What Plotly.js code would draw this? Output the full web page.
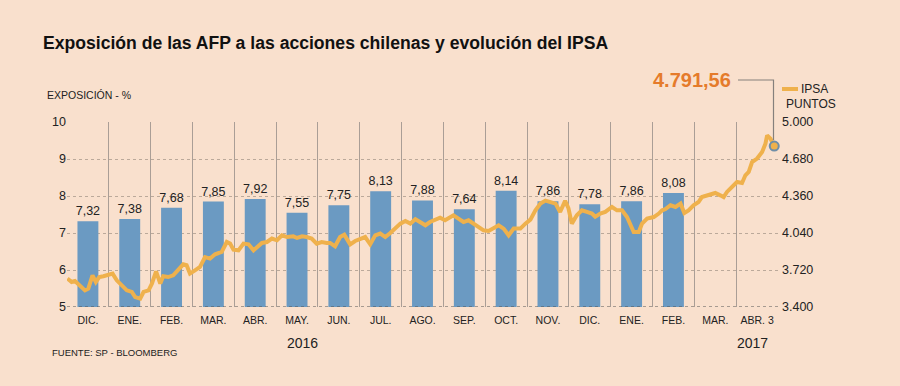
<!DOCTYPE html>
<html>
<head>
<meta charset="utf-8">
<script src="https://cdn.plot.ly/plotly-3.0.1.min.js"></script>
<style>
  html, body { margin: 0; padding: 0; background: #f9e0cd; }
  #chart { width: 900px; height: 386px; }
</style>
</head>
<body>
<div id="chart"></div>
<script>
// ---- data ----
const monthLabels = ['DIC.', 'ENE.', 'FEB.', 'MAR.', 'ABR.', 'MAY.', 'JUN.', 'JUL.', 'AGO.', 'SEP.', 'OCT.', 'NOV.', 'DIC.', 'ENE.', 'FEB.', 'MAR.', 'ABR. 3'];
const exposicion = [7.32, 7.38, 7.68, 7.85, 7.92, 7.55, 7.75, 8.13, 7.88, 7.64, 8.14, 7.86, 7.78, 7.86, 8.08];
// position of each IPSA reading along the month axis (0 = start of DIC. 2015)
const ipsaPos = [0.01,0.11,0.19,0.31,0.43,0.51,0.61,0.69,0.77,0.87,0.99,1.09,1.19,1.31,1.43,1.55,1.63,1.75,1.83,1.95,
  2.03,2.13,2.23,2.30,2.42,2.54,2.66,2.78,2.86,2.94,3.06,3.18,3.30,3.42,3.54,3.70,3.82,3.90,3.98,4.10,
  4.22,4.34,4.46,4.54,4.66,4.78,4.90,5.02,5.14,5.26,5.41,5.50,5.62,5.73,5.85,5.97,6.09,6.21,
  6.29,6.41,6.53,6.63,6.77,6.89,7.01,7.13,7.25,7.37,7.49,7.61,7.73,7.85,7.97,8.09,8.21,8.33,8.45,8.57,
  8.68,8.80,8.92,9.04,9.16,9.24,9.36,9.48,9.60,9.72,9.84,9.96,10.08,10.20,10.32,10.44,10.56,10.68,10.84,10.96,
  11.08,11.20,11.32,11.44,11.56,11.68,11.79,11.91,11.99,12.07,12.19,12.31,12.43,12.55,12.63,12.75,12.87,13.03,13.15,13.27,
  13.39,13.47,13.55,13.67,13.75,13.87,14.03,14.15,14.23,14.31,14.43,14.55,14.67,14.76,14.86,14.98,15.10,15.18,15.30,15.42,
  15.50,15.62,15.70,15.78,15.90,16.02,16.14,16.22,16.30,16.38,16.50,16.62,16.70,16.74,16.82,16.91];
const ipsa = [3646,3616,3625,3588,3544,3559,3674,3616,3659,3666,3674,3689,3631,3588,3544,3530,3486,3473,3530,3544,
  3602,3709,3602,3666,3659,3674,3717,3769,3761,3689,3717,3746,3832,3819,3856,3876,3962,3948,3896,3890,
  3948,3942,3890,3919,3954,3962,3992,3977,4020,4005,4011,3997,4011,4005,3992,3948,3962,3954,
  3954,3925,4005,4026,3942,3971,3992,4005,3942,4020,4035,4005,4040,4078,4121,4144,4121,4159,4128,4107,
  4135,4156,4173,4150,4173,4193,4165,4135,4150,4121,4092,4063,4057,4078,4107,4078,4020,4078,4078,4121,
  4156,4236,4294,4320,4308,4294,4222,4318,4254,4121,4193,4236,4222,4208,4180,4208,4222,4265,4236,4236,
  4178,4121,4049,4049,4121,4165,4178,4208,4236,4247,4280,4265,4294,4213,4236,4280,4308,4351,4366,4375,
  4386,4366,4351,4395,4438,4481,4472,4539,4568,4654,4684,4741,4813,4885,4856,4791.56];
const leftTicks = [5, 6, 7, 8, 9, 10];
const rightTicks = [3400, 3720, 4040, 4360, 4680, 5000];

// ---- layout helpers (pixel -> paper) ----
const W = 900, H = 386, ML = 67, MR = 122, MT = 122, MB = 79;
const PW = W - ML - MR, PH = H - MT - MB;
const px = x => (x - ML) / PW;
const py = y => (H - MB - y) / PH;

const FONT = 'Liberation Sans, Arial, sans-serif';
const DARK = '#222222';
const BAR = '#6b9ac2';
const LINE = '#efb14c';
const ORANGE = '#e57b2b';

const centers = monthLabels.map((_, i) => i + 0.5);
const bounds = monthLabels.map((_, i) => i).concat([monthLabels.length]);
const last = ipsa.length - 1;

const traces = [
  {
    type: 'bar', x: exposicion.map((_, i) => i + 0.5), y: exposicion,
    width: 0.5, marker: { color: BAR }, xaxis: 'x', yaxis: 'y',
    text: exposicion, texttemplate: '%{y:.2f}', textposition: 'outside', constraintext: 'none',
    textfont: { family: FONT, size: 12.5, color: DARK }, cliponaxis: false,
    hoverinfo: 'skip', showlegend: false
  },
  {
    type: 'scatter', mode: 'lines', x: ipsaPos, y: ipsa, xaxis: 'x', yaxis: 'y2',
    line: { color: LINE, width: 4 }, hoverinfo: 'skip', showlegend: false
  },
  {
    type: 'scatter', mode: 'markers', x: [ipsaPos[last]], y: [ipsa[last]], xaxis: 'x', yaxis: 'y2',
    marker: { size: 9, color: LINE, line: { color: '#6f8ea8', width: 2 } },
    hoverinfo: 'skip', showlegend: false, cliponaxis: false
  }
];

const layout = {
  width: W, height: H,
  margin: { l: ML, r: MR, t: MT, b: MB, pad: 0 },
  paper_bgcolor: '#f9e0cd', plot_bgcolor: '#f9e0cd',
  separators: ',.',
  font: { family: FONT, color: DARK, size: 12 },
  showlegend: false,
  title: {
    text: '<b>Exposición de las AFP a las acciones chilenas y evolución del IPSA</b>',
    font: { family: FONT, size: 17.6, color: '#111111' },
    x: 43 / W, xanchor: 'left', xref: 'container',
    y: 1 - 43 / H, yanchor: 'middle', yref: 'container'
  },
  xaxis: {
    range: [0, monthLabels.length], tickmode: 'array', tickvals: centers, ticktext: monthLabels,
    showgrid: false, zeroline: false, showline: false, ticks: '', ticklabelstandoff: 5,
    tickfont: { family: FONT, size: 10.5, color: DARK },
    minor: { tickmode: 'array', tickvals: bounds, showgrid: true, gridcolor: '#aa9e96', gridwidth: 1, ticks: '' },
    fixedrange: true
  },
  yaxis: {
    range: [5, 10], tickmode: 'array', tickvals: leftTicks,
    showgrid: true, gridcolor: '#bba99a', griddash: 'dot', gridwidth: 1,
    zeroline: false, showline: false, ticks: '',
    tickfont: { family: FONT, size: 12.5, color: DARK }, fixedrange: true
  },
  yaxis2: {
    range: [3400, 5000], overlaying: 'y', side: 'right', tickmode: 'array', tickvals: rightTicks,
    tickformat: ',d', showgrid: false, zeroline: false, showline: false, ticks: '', ticklabelstandoff: 3,
    tickfont: { family: FONT, size: 12.5, color: DARK }, fixedrange: true
  },
  shapes: [
    { type: 'line', xref: 'paper', yref: 'y', x0: 0, x1: 1, y0: 5, y1: 5,
      line: { color: '#555555', width: 1.2, dash: 'dot' } },
    { type: 'path', xref: 'paper', yref: 'paper',
      path: `M ${px(738)} ${py(80)} L ${px(773.5)} ${py(80)} L ${px(773.5)} ${py(140)}`,
      line: { color: '#85807c', width: 1.2 } },
    { type: 'line', xref: 'paper', yref: 'paper', x0: px(782), x1: px(798), y0: py(89), y1: py(89),
      line: { color: LINE, width: 4 } }
  ],
  annotations: [
    { xref: 'paper', yref: 'paper', x: px(45), y: py(95), xanchor: 'left', yanchor: 'middle',
      text: 'EXPOSICIÓN - %', showarrow: false, font: { family: FONT, size: 10.5, color: DARK } },
    { xref: 'paper', yref: 'paper', x: px(733), y: py(80), xanchor: 'right', yanchor: 'middle',
      text: '<b>4.791,56</b>', showarrow: false, font: { family: FONT, size: 20, color: ORANGE } },
    { xref: 'paper', yref: 'paper', x: px(799), y: py(89), xanchor: 'left', yanchor: 'middle',
      text: 'IPSA', showarrow: false, font: { family: FONT, size: 12, color: DARK } },
    { xref: 'paper', yref: 'paper', x: px(784), y: py(104), xanchor: 'left', yanchor: 'middle',
      text: 'PUNTOS', showarrow: false, font: { family: FONT, size: 12, color: DARK } },
    { xref: 'paper', yref: 'paper', x: px(302), y: py(343), xanchor: 'center', yanchor: 'middle',
      text: '2016', showarrow: false, font: { family: FONT, size: 14, color: DARK } },
    { xref: 'paper', yref: 'paper', x: px(752), y: py(343), xanchor: 'center', yanchor: 'middle',
      text: '2017', showarrow: false, font: { family: FONT, size: 14, color: DARK } },
    { xref: 'paper', yref: 'paper', x: px(50), y: py(352), xanchor: 'left', yanchor: 'middle',
      text: 'FUENTE: SP - BLOOMBERG', showarrow: false, font: { family: FONT, size: 9.5, color: DARK } }
  ]
};

Plotly.newPlot('chart', traces, layout, { staticPlot: true, displayModeBar: false });
</script>
</body>
</html>
